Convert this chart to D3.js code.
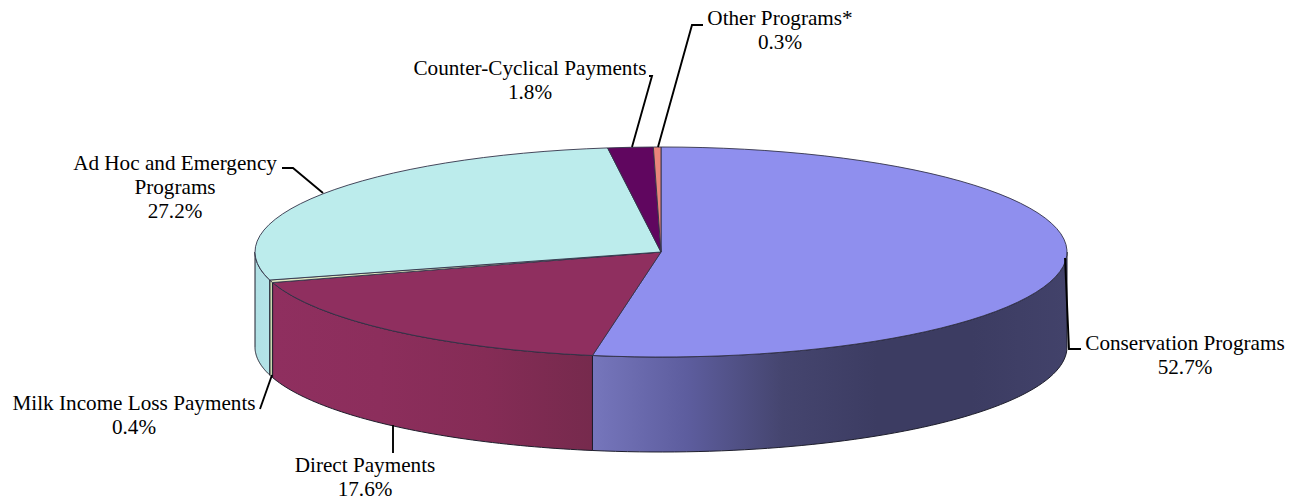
<!DOCTYPE html>
<html lang="en"><head><meta charset="UTF-8">
	<title>Farm program payments</title>
	<script src="https://d3js.org/d3.v7.min.js"></script>
	<style type="text/css">
		html, body { margin: 0; padding: 0; background: #fff; }
		svg { display: block; }
		text { font-family: "Liberation Serif", serif; font-size: 21.2px; fill: #000; text-anchor: middle; }
	</style>
</head>
<body>
<script type="text/javascript">

	// values, in pie order starting at 12 o'clock going clockwise
	var categories = ["Conservation Programs", "Direct Payments", "Milk Income Loss Payments",
		"Ad Hoc and Emergency Programs", "Counter-Cyclical Payments", "Other Programs*"];
	var shares = [52.7, 17.6, 0.4, 27.2, 1.8, 0.3];

	var w = 1300, h = 501;
	var cx = 661, cy = 252, rx = 406, ry = 105, depth = 95;

	var topColors = ["#8f8fee", "#8f2f5f", "#dfe8c0", "#bcecec", "#60065f", "#e9857b"];
	// wall gradients: colours along the x axis of each visible wall
	var wallStops = [
		["#7676bc", "#5d5d9e", "#45456f", "#3c3c62", "#3c3c62", "#42426a"],
		["#8f2f5f", "#8c2e5c", "#852c56", "#762a4d"],
		["#c9d8b0", "#c9d8b0"],
		["#b0e0e4", "#b4e4e8"]
	];

	// label text lines, leader and text placement, same order as categories
	var labelLines = [
		[categories[0], shares[0].toFixed(1) + "%"],
		[categories[1], shares[1].toFixed(1) + "%"],
		[categories[2], shares[2].toFixed(1) + "%"],
		["Ad Hoc and Emergency", "Programs", shares[3].toFixed(1) + "%"],
		[categories[4], shares[4].toFixed(1) + "%"],
		[categories[5], shares[5].toFixed(1) + "%"]
	];
	var labelPos = [[1185, 350], [365, 471.8], [134, 410], [175, 170], [530, 75], [780, 25]];
	var leaders = [
		[[1065, 258], [1069, 349], [1081, 349]],
		[[393, 425], [393, 453]],
		[[272, 375], [260, 409]],
		[[323, 193], [293, 168], [282, 168]],
		[[632, 147], [652, 76], [649, 76]],
		[[658, 147], [692, 25], [703, 25]]
	];

	var svg = d3.select("body").append("svg").attr("width", w).attr("height", h);
	var defs = svg.append("defs");

	var pie = d3.pie().sort(null).value(function(d) { return d; });
	var slices = pie(shares);

	// unit circle -> ellipse
	var x = d3.scaleLinear().domain([-1, 1]).range([cx - rx, cx + rx]);
	var y = d3.scaleLinear().domain([-1, 1]).range([cy - ry, cy + ry]);

	function px(a) { return x(Math.sin(a)); }
	function py(a) { return y(-Math.cos(a)); }

	// side wall between two angles, sampled along the rim
	function wallPath(a0, a1) {
		var angles = d3.range(0, 61).map(function(i) { return a0 + (a1 - a0) * i / 60; });
		var top = angles.map(function(a) { return [px(a), py(a)]; });
		var bottom = angles.slice().reverse().map(function(a) { return [px(a), py(a) + depth]; });
		return d3.line()(top.concat(bottom)) + "Z";
	}

	var halfPi = Math.PI / 2;
	var walls = [];
	slices.forEach(function(s, i) {
		var a0 = Math.max(s.startAngle, halfPi);
		var a1 = Math.min(s.endAngle, 3 * halfPi);
		if (a1 > a0) walls.push({index: i, a0: a0, a1: a1});
	});

	walls.forEach(function(d, k) {
		var x0 = px(d.a0), x1 = px(d.a1);
		var grad = defs.append("linearGradient")
			.attr("id", "wall" + k)
			.attr("gradientUnits", "userSpaceOnUse")
			.attr("x1", x1).attr("x2", x0).attr("y1", 0).attr("y2", 0);
		wallStops[k].forEach(function(c, j) {
			grad.append("stop")
				.attr("offset", j / (wallStops[k].length - 1))
				.attr("stop-color", c);
		});
	});

	svg.append("g").selectAll("path")
		.data(walls)
		.enter()
		.append("path")
		.attr("d", function(d) { return wallPath(d.a0, d.a1); })
		.attr("fill", function(d, k) { return "url(#wall" + k + ")"; })
		.attr("stroke", "#1e1e2c")
		.attr("stroke-width", 1)
		.attr("stroke-linejoin", "round");

	// top face: d3 arc on a unit circle squashed into the ellipse
	var arc = d3.arc().innerRadius(0).outerRadius(rx);
	svg.append("g")
		.attr("transform", "translate(" + cx + "," + cy + ") scale(1," + (ry / rx) + ")")
		.selectAll("path")
		.data(slices)
		.enter()
		.append("path")
		.attr("d", arc)
		.attr("fill", function(d, i) { return topColors[i]; })
		.attr("stroke", "#33334a")
		.attr("stroke-width", 0.9)
		.attr("vector-effect", "non-scaling-stroke");

	// leaders
	svg.append("g").selectAll("path")
		.data(leaders)
		.enter()
		.append("path")
		.attr("d", d3.line())
		.attr("fill", "none")
		.attr("stroke", "#000")
		.attr("stroke-width", 1.9);

	// labels
	var labels = svg.append("g").selectAll("text")
		.data(labelLines)
		.enter()
		.append("text")
		.attr("transform", function(d, i) { return "translate(" + labelPos[i][0] + "," + labelPos[i][1] + ")"; });

	labels.selectAll("tspan")
		.data(function(d) { return d; })
		.enter()
		.append("tspan")
		.attr("x", 0)
		.attr("y", function(d, i) { return i * 24.2; })
		.text(function(d) { return d; });

</script>
</body>
</html>
